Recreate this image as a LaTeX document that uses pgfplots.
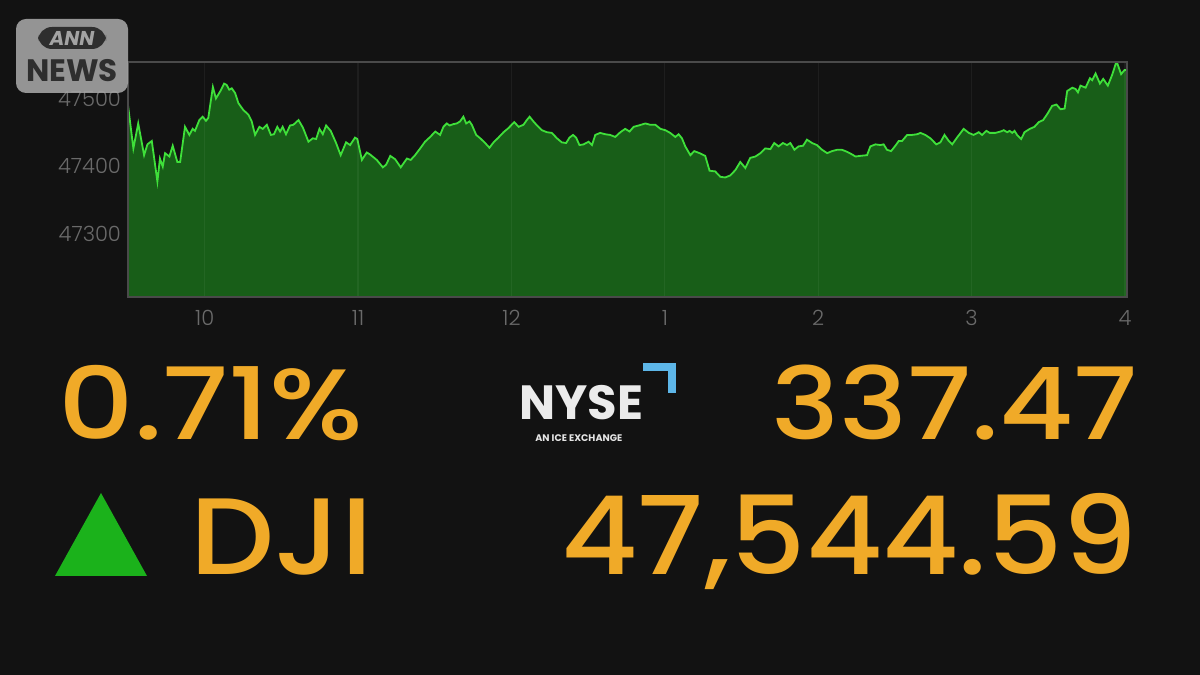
\documentclass[border=0pt]{standalone}
\usepackage{pgfplots}
\pgfplotsset{compat=1.18}
\usepackage{pgfplotstable}
\usepackage{fontspec}
\setmainfont{Poppins}
\newfontfamily\numfont{Poppins Medium}
\newfontfamily\tickfont{Poppins Light}
\definecolor{bg}{HTML}{121212}
\definecolor{fillg}{HTML}{185E18}
\definecolor{lineg}{HTML}{3FE03A}
\definecolor{tickg}{HTML}{6A6A6A}
\definecolor{frameg}{HTML}{4A4A4A}
\definecolor{orng}{HTML}{F0AA28}
\definecolor{trig}{HTML}{1BB21B}
\definecolor{nyseb}{HTML}{5DB6E8}

\pgfplotstableread{
m v
0 47490
2.1 47426
4.0 47463
6.3 47416
7.6 47432
9.3 47437
9.9 47421
11.5 47377
12.5 47411
13.6 47399
14.5 47419
16.2 47414
17.5 47430
19.3 47406
20.4 47406
22.3 47458
24.0 47446
25.3 47455
26.2 47452
27.9 47468
29.2 47473
30.5 47467
31.4 47471
33.2 47517
34.4 47500
36.0 47510
37.6 47522
38.6 47520
39.6 47513
40.6 47515
41.9 47508
43.2 47493
45.1 47483
47.1 47476
48.4 47466
49.7 47446
51.4 47458
52.7 47455
54.3 47461
55.9 47446
57.1 47447
58.4 47458
59.5 47451
60.5 47458
61.8 47447
63.4 47460
64.7 47461
66.7 47468
68.4 47457
70.6 47436
72.3 47441
73.6 47440
74.9 47455
76.2 47447
77.5 47460
79.3 47452
81.4 47434
83.2 47416
85.3 47435
86.9 47431
88.8 47442
89.7 47440
91.5 47409
93.4 47420
94.7 47417
97.3 47409
99.7 47398
101.0 47402
102.6 47415
104.5 47410
106.7 47398
109.1 47411
110.6 47409
112.3 47416
114.3 47426
116.2 47436
118.2 47443
120.2 47451
122.1 47446
123.4 47458
124.7 47463
125.8 47460
127.3 47462
128.6 47463
129.9 47466
131.2 47473
132.3 47463
133.6 47466
134.5 47461
136.2 47446
137.8 47441
139.7 47434
141.4 47427
143.0 47435
144.9 47442
146.9 47450
148.8 47456
151.1 47465
152.8 47458
154.7 47461
156.0 47468
157.1 47473
158.6 47466
160.0 47460
161.9 47453
163.9 47450
165.8 47449
167.8 47441
169.7 47435
171.4 47434
172.7 47442
174.1 47446
175.3 47442
176.6 47431
178.2 47432
180.2 47436
181.5 47431
182.8 47446
184.7 47449
186.7 47447
188.6 47446
190.6 47443
192.6 47450
194.5 47455
196.2 47451
197.8 47458
199.8 47460
202.4 47463
204.3 47461
206.3 47461
208.3 47455
210.2 47453
212.1 47449
214.1 47443
215.4 47447
216.7 47441
218.0 47429
220.0 47416
221.5 47422
223.6 47419
225.8 47415
227.5 47393
229.7 47392
231.7 47384
233.6 47383
235.6 47386
237.6 47394
239.5 47406
241.5 47397
243.4 47412
245.4 47414
247.4 47419
249.3 47426
251.3 47425
252.8 47434
254.5 47429
256.2 47434
257.8 47431
259.1 47434
260.7 47424
262.3 47429
264.1 47430
265.6 47439
267.6 47434
269.5 47431
271.5 47424
273.5 47419
275.4 47422
277.4 47424
279.3 47424
281.3 47421
283.3 47417
284.6 47414
286.5 47415
289.1 47416
290.4 47429
292.4 47432
294.3 47431
295.6 47432
296.9 47424
298.5 47422
300.2 47430
301.5 47437
302.8 47437
304.8 47446
306.7 47446
308.7 47447
310.0 47449
311.9 47446
313.9 47441
316.2 47432
317.8 47435
319.4 47446
321.1 47437
322.4 47432
324.3 47442
326.9 47455
328.9 47449
330.8 47446
332.8 47450
334.1 47446
335.8 47452
337.1 47449
339.3 47449
341.3 47451
342.6 47453
343.9 47450
344.9 47452
345.9 47449
346.8 47452
347.8 47446
349.4 47440
350.7 47450
352.8 47455
354.6 47458
356.3 47465
358.0 47468
359.8 47478
361.5 47489
363.2 47491
364.8 47484
366.4 47485
367.4 47511
369.4 47516
370.7 47514
371.6 47509
372.6 47519
374.6 47516
376.3 47530
377.2 47527
378.5 47537
380.2 47522
381.5 47529
383.3 47519
385.0 47535
386.7 47555
388.5 47536
389.8 47542
390.6 47542
}\dji

\begin{document}
\begin{tikzpicture}[x=0.5pt,y=0.5pt]
\fill[bg] (0,0) rectangle (1200,675);
\begin{axis}[
  at={(64pt,189pt)}, anchor=south west,
  scale only axis, width=499.5pt, height=117.5pt,
  xmin=0, xmax=390.8, ymin=47206, ymax=47554,
  axis line style={draw=frameg, line width=0.8pt},
  xtick={30,90,150,210,270,330,390},
  xticklabels={10,11,12,1,2,3,4},
  ytick={47300,47400,47500},
  scaled y ticks=false,
  major tick length=0pt,
  xmajorgrids, major x grid style={draw=white, opacity=0.05, line width=0.6pt},
  axis on top,
  tick label style={font=\fontsize{10.5}{12}\selectfont\tickfont, text=tickg},
  /pgf/number format/assume math mode=true,
  yticklabel={\pgfmathprintnumber[fixed,set thousands separator={}]{\tick}},
  xticklabel style={yshift=-3pt},
  clip=true,
]
\addplot[fill=fillg, draw=none] table[x=m,y=v]{\dji} \closedcycle;
\addplot[lineg, line width=0.9pt] table[x=m,y=v]{\dji};
\end{axis}
% ANN NEWS logo
\fill[gray!72, opacity=0.9, rounded corners=5pt] (16,582) rectangle (128,656);
\fill[black!82, rounded corners=7pt] (38,626) rectangle (106,648);
\node[font=\fontsize{10}{11}\selectfont\bfseries\itshape, text=gray!72] at (72,637) {ANN};
\node[font=\fontsize{15.5}{16}\selectfont\bfseries, text=black!82] at (72,604) {NEWS};
% lower text
\node[anchor=base west, inner sep=0, font=\fontsize{50}{56}\selectfont\numfont, text=orng] at (58,235) {\scalebox{1.18}[1]{0.71\%}};
\node[anchor=base east, inner sep=0, font=\fontsize{50}{56}\selectfont\numfont, text=orng] at (1138,235) {\scalebox{1.145}[1]{337.47}};
\node[anchor=base west, inner sep=0, font=\fontsize{54.4}{60}\selectfont\numfont, text=orng] at (190,100) {\scalebox{1.09}[1]{DJI}};
\node[anchor=base east, inner sep=0, font=\fontsize{54.4}{60}\selectfont\numfont, text=orng] at (1138,100) {\scalebox{1.085}[1]{47,544.59}};
\fill[trig] (55,99) -- (147,99) -- (101,182) -- cycle;
% NYSE logo
\node[anchor=base west, inner sep=0, font=\fontsize{24}{26}\selectfont\bfseries, text=white!92!black] at (519,255) {NYSE};
\draw[nyseb, line width=4pt] (643,308) -- (672,308) -- (672,282);
\node[anchor=base west, inner sep=0, font=\fontsize{4.8}{5}\selectfont\bfseries, text=white!90!black] at (535,233) {AN ICE EXCHANGE};
\end{tikzpicture}
\end{document}
